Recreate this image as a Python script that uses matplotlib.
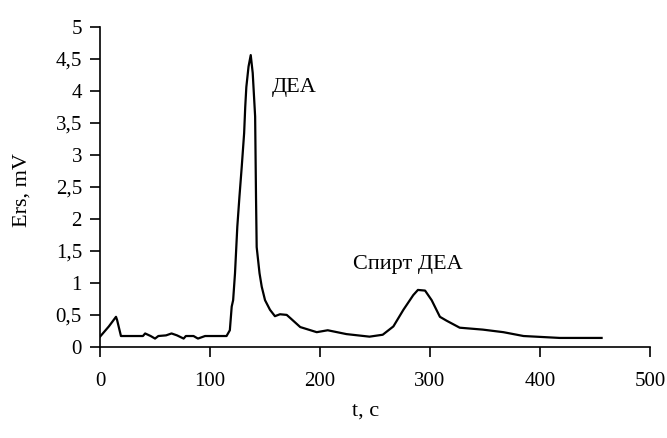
import matplotlib
matplotlib.use('Agg')
import matplotlib.pyplot as plt
from matplotlib.ticker import FuncFormatter

# ---- data ----
t_sec = [0, 8, 14.5, 15.5, 19, 39, 41, 46, 50, 53, 60, 65, 70, 76, 78, 85, 89, 95.5, 105, 115,
         118, 119.7, 121, 122.7, 124.8, 126.7, 128.8, 131, 132, 133, 135, 137, 138.8,
         141, 141.8, 142.4, 145, 147, 150, 154.5, 159, 163.6, 169.7, 173, 182, 197, 207,
         224, 245, 257, 266.7, 275.8, 284.8, 289, 295.5, 301.5, 309, 315, 327, 348,
         366.7, 385, 418, 456]
e_mv = [0.16, 0.32, 0.47, 0.42, 0.17, 0.17, 0.21, 0.17, 0.13, 0.17, 0.18, 0.21, 0.18, 0.13, 0.17, 0.17, 0.13, 0.17, 0.17, 0.17,
        0.26, 0.63, 0.73, 1.15, 1.88, 2.34, 2.81, 3.34, 3.75, 4.06, 4.38, 4.56, 4.28,
        3.6, 2.34, 1.56, 1.15, 0.94, 0.73, 0.58, 0.48, 0.51, 0.5, 0.45, 0.31, 0.23, 0.26,
        0.2, 0.16, 0.19, 0.32, 0.58, 0.81, 0.89, 0.88, 0.73, 0.47, 0.41, 0.3, 0.27,
        0.23, 0.17, 0.14, 0.14]

x_ticks = [0, 100, 200, 300, 400, 500]
y_ticks = [0, 0.5, 1, 1.5, 2, 2.5, 3, 3.5, 4, 4.5, 5]

plt.rcParams['font.family'] = ['Liberation Serif', 'DejaVu Serif']
plt.rcParams['font.size'] = 15

fig = plt.figure(figsize=(6.67, 4.38), dpi=100)
ax = fig.add_axes([0.15, 0.208, 0.8245, 0.7305])

ax.plot(t_sec, e_mv, color='black', linewidth=1.6)

ax.set_xlim(0, 500)
ax.set_ylim(0, 5)
ax.set_xticks(x_ticks)
ax.set_yticks(y_ticks)
ax.yaxis.set_major_formatter(FuncFormatter(lambda v, p: ('%g' % v).replace('.', ',')))

for side in ['top', 'right']:
    ax.spines[side].set_visible(False)
for side in ['left', 'bottom']:
    ax.spines[side].set_linewidth(1.2)
ax.tick_params(axis='both', direction='out', length=7, width=1.2)
ax.tick_params(axis='x', pad=11)
ax.tick_params(axis='y', pad=6)

ax.set_xlabel('t, c', fontsize=16)
ax.xaxis.set_label_coords(0.483, -0.17)
ax.set_ylabel('Ers, mV', fontsize=16)
ax.yaxis.set_label_coords(-0.125, 0.49)

ax.text(156, 4.05, 'ДЕА', va='center', ha='left', fontsize=16)
ax.text(230, 1.28, 'Спирт ДЕА', va='center', ha='left', fontsize=16)

fig.savefig('out.png', dpi=100)
